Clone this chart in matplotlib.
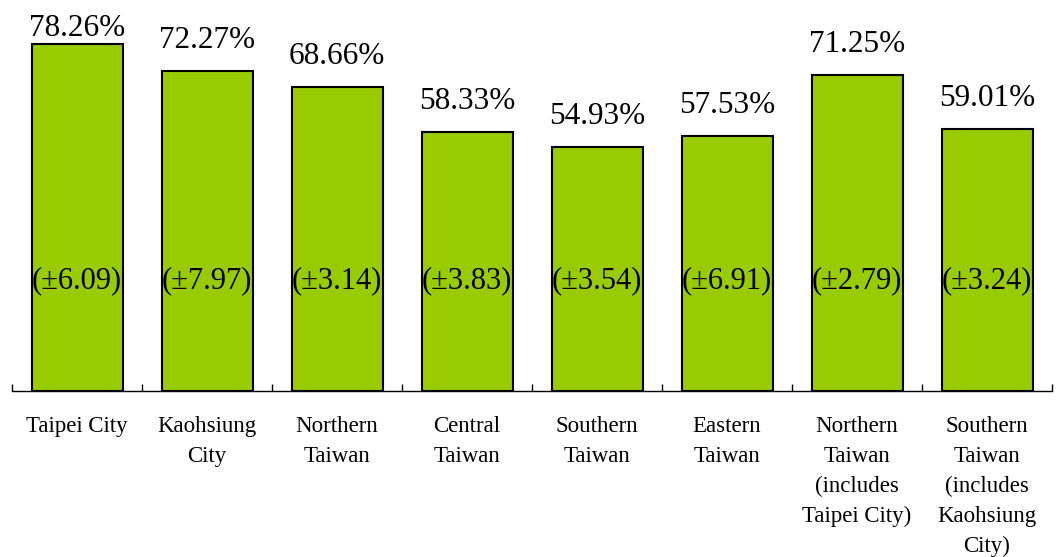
import matplotlib
matplotlib.use("Agg")
import matplotlib.pyplot as plt
import numpy as np

categories = ["Taipei City", "Kaohsiung\nCity", "Northern\nTaiwan", "Central\nTaiwan",
              "Southern\nTaiwan", "Eastern\nTaiwan",
              "Northern\nTaiwan\n(includes\nTaipei City)",
              "Southern\nTaiwan\n(includes\nKaohsiung\nCity)"]
values = [78.26, 72.27, 68.66, 58.33, 54.93, 57.53, 71.25, 59.01]
margins = [6.09, 7.97, 3.14, 3.83, 3.54, 6.91, 2.79, 3.24]

plt.rcParams['font.family'] = ['Liberation Serif', 'DejaVu Serif']

fig = plt.figure(figsize=(10.61, 5.57), dpi=100)
ax = fig.add_axes([12/1061, (557-391)/557, 1040/1061, 391/557])
x = np.arange(len(values))
ax.bar(x, values, width=0.7, color="#99CC00", edgecolor="black", linewidth=1.5, zorder=2)
ax.set_xlim(-0.5, len(values) - 0.5)
ax.set_ylim(0, 88.2)

for xi, v, m in zip(x, values, margins):
    ax.text(xi, min(v + 5.2, 80.0), f"{v:.2f}%", ha="center", va="baseline", fontsize=22.5)
    ax.text(xi, 24.8, f"(±{m:.2f})", ha="center", va="center", fontsize=22)

for s in ["top", "left", "right"]:
    ax.spines[s].set_visible(False)
ax.spines["bottom"].set_linewidth(1.0)
ax.set_yticks([])
ax.set_xticks(x)
ax.set_xticklabels(categories, fontsize=16.5)
for lab in ax.get_xticklabels():
    lab.set_linespacing(1.55)
ax.tick_params(axis="x", which="major", length=0, pad=18)
ax.set_xticks(np.arange(-0.5, len(values)), minor=True)
ax.tick_params(axis="x", which="minor", direction="in", length=5, width=1)

fig.savefig("out.png", dpi=100)
